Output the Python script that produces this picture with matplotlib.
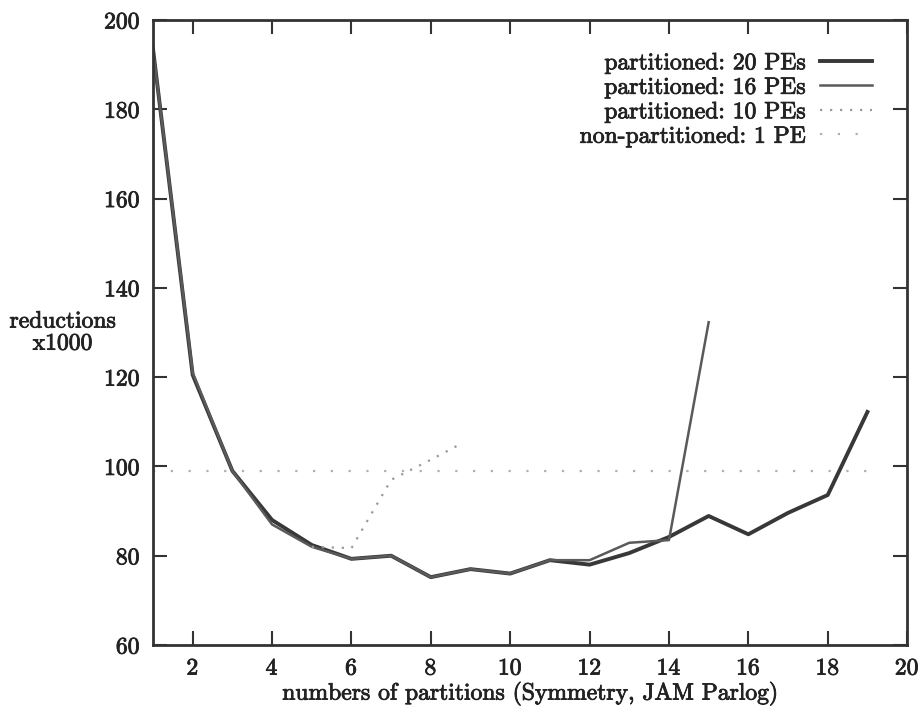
import matplotlib.pyplot as plt
import matplotlib.patheffects as pe

plt.rcParams.update({
    "font.family": "cmr10",
    "axes.formatter.use_mathtext": True,
    "font.size": 17,
})

# number of partitions
x20 = list(range(1, 20))
pe20 = [193.5, 120.5, 99, 88, 82.4, 79.3, 80, 75.2, 77, 76, 79, 78, 80.6, 84.2, 88.9, 84.8, 89.6, 93.6, 112.2]
x16 = list(range(1, 16))
pe16 = [193.5, 121, 99, 87, 82, 79.3, 80, 75.2, 77, 76, 79, 79, 82.9, 83.5, 132.3]
x10 = [5, 6, 7, 8, 8.7]
pe10 = [82, 81.7, 97, 101.5, 104.8]
x1 = [1, 19]
pe1 = [99, 99]

fig = plt.figure(figsize=(9.2, 7.24), dpi=100)
ax = fig.add_axes([0.1663, 0.1091, 0.8197, 0.8633])

ax.plot(x20, pe20, color="#383838", lw=2.8, label="partitioned: 20 PEs")
ax.plot(x16, pe16, color="#5a5a5a", lw=1.8, label="partitioned: 16 PEs")
ax.plot(x10, pe10, color="#9a9a9a", lw=1.6, ls=(0, (1, 3.5)), label="partitioned: 10 PEs")
ax.plot(x1, pe1, color="#b0b0b0", lw=1.6, ls=(0, (1, 7)), label="non-partitioned: 1 PE")

ax.set_xlim(1, 20)
ax.set_ylim(60, 200)
ax.set_xticks(range(2, 21, 2))
ax.set_yticks(range(60, 201, 20))
ax.tick_params(direction="in", length=10, width=1.5, top=True, right=True,
               colors="#333333", labelcolor="#222222", pad=9)
for s in ax.spines.values():
    s.set_linewidth(2)
    s.set_color("#333333")

thick = [pe.withStroke(linewidth=0.6, foreground="#222222")]

ax.set_xlabel("numbers of partitions (Symmetry, JAM Parlog)", labelpad=1, color="#222222",
              path_effects=thick)
ax.text(-0.12, 0.5, "reductions\nx1000", transform=ax.transAxes, ha="center", va="center",
        color="#222222", linespacing=1.0, path_effects=thick)
for lab in ax.get_xticklabels() + ax.get_yticklabels():
    lab.set_path_effects(thick)

leg = ax.legend(loc="upper right", bbox_to_anchor=(0.975, 0.975), frameon=False,
                markerfirst=False, handlelength=2.2, handletextpad=0.6,
                labelspacing=0.1, borderaxespad=0.3, fontsize=17)
for t in leg.get_texts():
    t.set_color("#222222")
    t.set_path_effects(thick)

fig.savefig("out.png", dpi=100)
